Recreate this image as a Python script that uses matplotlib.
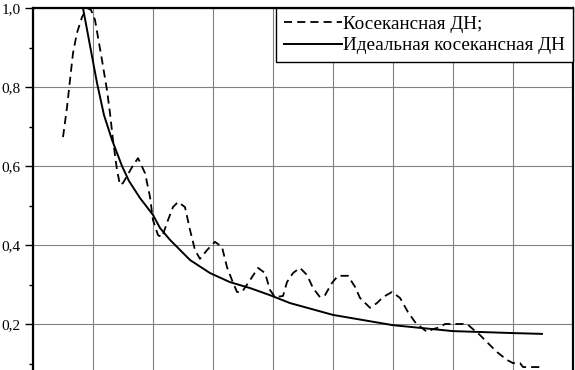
import numpy as np
import matplotlib
matplotlib.use('Agg')
import matplotlib.pyplot as plt

### Angle axis in degrees, normalized pattern level

# Measured (dashed) cosecant pattern
angle_meas = [5.0, 5.67, 6.17, 6.67, 7.33, 8.17, 9.0, 9.67, 10.33, 11.5, 12.33, 12.83,
              13.33, 14.0, 14.5, 15.0, 16.5, 17.5, 18.67, 19.5, 20.0, 20.83, 21.5,
              22.5, 23.33, 24.17, 25.33, 26.17, 27.0, 27.83, 29.0, 30.33, 31.5, 32.33,
              33.17, 34.0, 34.83, 36.17, 37.5, 38.67, 39.5, 40.33, 41.67, 42.33, 43.33,
              44.5, 45.67, 46.67, 47.83, 48.67, 49.83, 50.83, 52.5, 53.67, 54.5, 56.17,
              57.33, 58.33, 59.83, 61.17, 62.5, 63.67, 64.83, 65.67, 66.67, 67.83,
              68.67, 72.33, 73.33, 74.5, 75.67, 77.33, 79.0, 80.0, 81.17, 81.67, 84.67]
level_meas = [0.673, 0.749, 0.818, 0.886, 0.937, 0.977, 1.0, 0.995, 0.970, 0.868, 0.792,
              0.734, 0.666, 0.590, 0.552, 0.557, 0.597, 0.620, 0.582, 0.522, 0.463,
              0.425, 0.420, 0.463, 0.496, 0.509, 0.496, 0.438, 0.387, 0.365, 0.387,
              0.408, 0.395, 0.344, 0.311, 0.281, 0.281, 0.311, 0.342, 0.329, 0.286,
              0.268, 0.271, 0.306, 0.329, 0.342, 0.324, 0.291, 0.268, 0.273, 0.304,
              0.322, 0.322, 0.294, 0.266, 0.241, 0.253, 0.268, 0.281, 0.266, 0.230,
              0.205, 0.190, 0.180, 0.187, 0.192, 0.200, 0.200, 0.187, 0.172, 0.154,
              0.129, 0.109, 0.101, 0.101, 0.091, 0.091]

# Ideal cosecant pattern
angle_ideal = [8.33, 9.5, 10.67, 11.83, 13.17, 14.83, 16.0, 17.83, 20.0, 21.17,
               22.83, 26.17, 29.5, 32.83, 36.17, 39.5, 42.83, 50.0, 60.0, 70.0, 80.0, 84.83]
level_ideal = [1.0, 0.905, 0.810, 0.729, 0.666, 0.600, 0.562, 0.519, 0.476, 0.443,
               0.413, 0.362, 0.329, 0.306, 0.291, 0.273, 0.253, 0.223, 0.197, 0.182,
               0.177, 0.175]

label_meas = 'Косекансная ДН;'
label_ideal = 'Идеальная косекансная ДН'

y_ticks = [0.2, 0.4, 0.6, 0.8, 1.0]
y_labels = ['0,2', '0,4', '0,6', '0,8', '1,0']
y_minor = [0.1, 0.3, 0.5, 0.7, 0.9]
x_ticks = [0, 10, 20, 30, 40, 50, 60, 70, 80, 90]

plt.rcParams['font.family'] = ['Liberation Serif', 'DejaVu Serif']

fig = plt.figure(figsize=(5.75, 3.7), dpi=100)
# axes run below the bottom edge: the picture is cropped there
ax = fig.add_axes([33/575, (370-403)/370, 540/575, 395/370])

ax.plot(angle_meas, level_meas, color='black', lw=1.3, ls=(0, (4.5, 2.8)),
        label=label_meas, zorder=3)
ax.plot(angle_ideal, level_ideal, color='black', lw=1.4, label=label_ideal, zorder=3)

ax.set_xlim(0, 90)
ax.set_ylim(0, 1.0)
ax.set_xticks(x_ticks)
ax.set_yticks(y_ticks)
ax.set_yticklabels(y_labels, fontsize=11)
ax.set_yticks(y_minor, minor=True)
ax.tick_params(axis='y', which='major', direction='out', length=6, width=1, pad=3)
ax.tick_params(axis='y', which='minor', direction='out', length=3, width=1)
ax.tick_params(axis='x', labelbottom=False, length=0)

ax.grid(True, which='major', color='#808080', lw=0.8)
ax.set_axisbelow(True)
for s in ax.spines.values():
    s.set_linewidth(1.6)
    s.set_color('black')

leg = ax.legend(loc='upper right', fontsize=13.8, frameon=True, fancybox=False,
                framealpha=1, edgecolor='black', borderaxespad=0,
                handlelength=3.0, handletextpad=0.1, labelspacing=0.2,
                borderpad=0.4)
leg.get_frame().set_linewidth(1.0)
leg.set_zorder(5)

fig.savefig('out.png', dpi=100)
